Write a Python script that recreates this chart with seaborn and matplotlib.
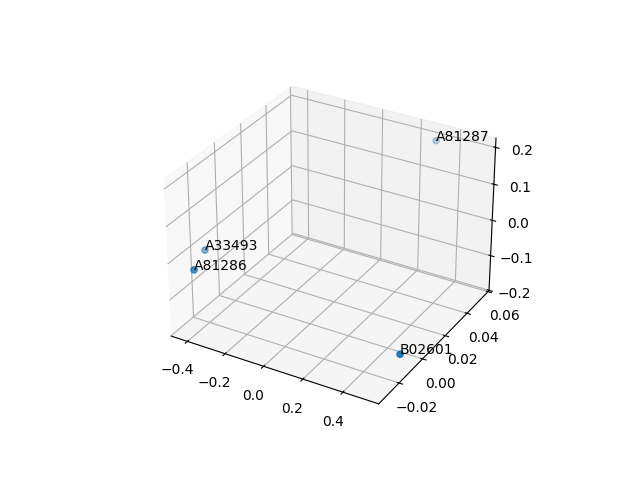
import numpy as np
import seaborn as sns
import matplotlib
matplotlib.use("Agg")
import matplotlib.pyplot as plt

labels = ["A33493", "A81286", "A81287", "B02601"]
xs = [-0.42, -0.395, 0.312, 0.508]
ys = [-0.0188, -0.0305, 0.0547, -0.0078]
zs = [-0.0046, -0.02, 0.198, -0.174]

sns.set_palette("tab10")
fig = plt.figure()
ax = fig.add_subplot(projection="3d")
ax.scatter(xs, ys, zs)
for name, x, y, z in zip(labels, xs, ys, zs):
    ax.text(x, y, z, name)
fig.savefig("out.png", dpi=100)
